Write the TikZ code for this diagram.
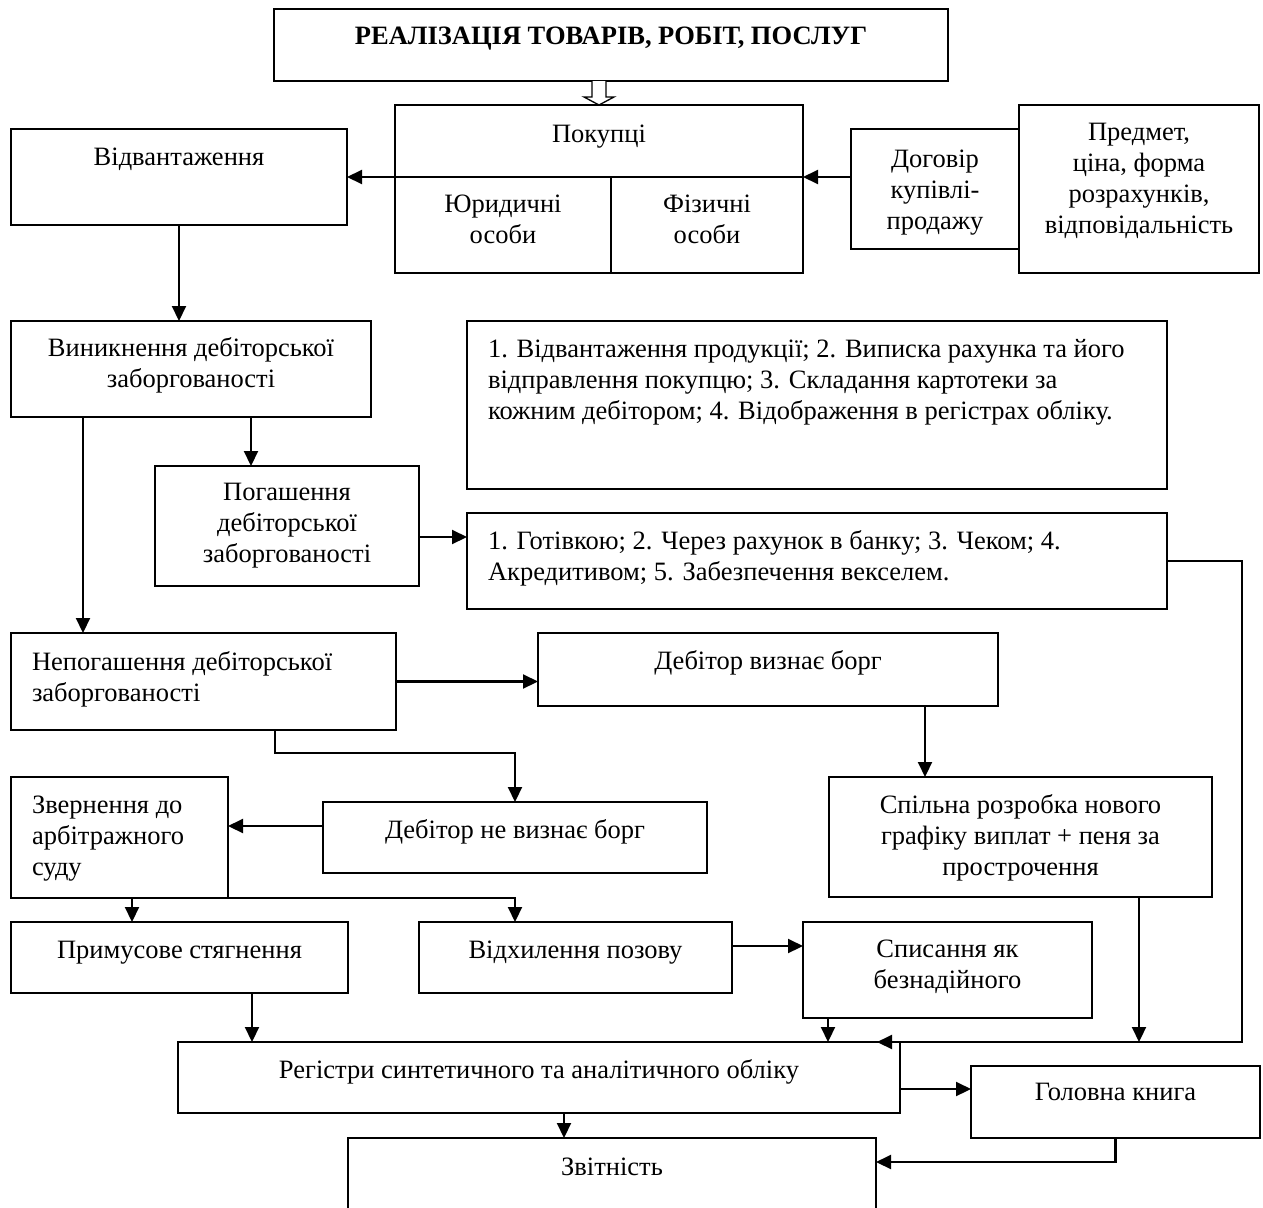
\documentclass[tikz,border=0pt]{standalone}
\usepackage{fontspec}
\setmainfont{Liberation Serif}
\usetikzlibrary{arrows.meta}
\newcommand\cbx[4]{\parbox[t][#2pt][t]{#1pt}{\vspace*{\dimexpr#3pt-21.7pt\relax}\centering\strut#4\par}}
\newcommand\lbx[4]{\parbox[t][#2pt][t]{#1pt}{\vspace*{\dimexpr#3pt-21.7pt\relax}\raggedright\leftskip=21pt\strut#4\par}}
\begin{document}
\begin{tikzpicture}[x=1pt,y=-1pt,
  bx/.style={draw, line width=1.7pt, inner sep=0pt, outer sep=0pt, anchor=north west,
    font=\fontsize{26.5pt}{31pt}\selectfont},
  arr/.style={line width=2.1pt, -{Triangle[length=15pt,width=14pt]}},
  hol/.style={line width=1.3pt, fill=white, line join=miter}]
\useasboundingbox[fill=white] (0,0) rectangle (1263,1207);
% helper coordinates
\coordinate (xHA) at (599,0);
\coordinate (x83) at (83,0);
\coordinate (x251) at (251,0);
\coordinate (y537) at (0,537);
\coordinate (xR) at (1242,0);
\coordinate (xT) at (877,0);
\coordinate (x925) at (925,0);
\coordinate (x275) at (275,0);
\coordinate (y753) at (0,753);
\coordinate (y826) at (0,826);
\coordinate (x132) at (132,0);
\coordinate (y946) at (0,946);
\coordinate (x252) at (252,0);
\coordinate (x828) at (828,0);
\coordinate (x1139) at (1139,0);
\coordinate (y1089) at (0,1089);
\coordinate (x564) at (564,0);
\coordinate (y1162) at (0,1162);
% boxes
\node[bx] (tit) at (274,9) {\cbx{674}{72}{36}{\bfseries РЕАЛІЗАЦІЯ ТОВАРІВ, РОБІТ, ПОСЛУГ}};
\node[bx] (pok) at (395,105) {\cbx{408}{168}{37}{Покупці}};
\node[bx] (yur) at (395,177) {\cbx{216}{96}{35}{Юридичні\\особи}};
\node[bx] (fiz) at (611,177) {\cbx{192}{96}{35}{Фізичні\\особи}};
\node[bx] (otg) at (11,129) {\cbx{336}{96}{36}{Відвантаження}};
\node[bx] (dog) at (851,129) {\cbx{168}{120}{38}{Договір\\купівлі-\\продажу}};
\node[bx] (pred) at (1019,105) {\cbx{240}{168}{35}{Предмет,\\ціна, форма\\розрахунків,\\відповідальність}};
\node[bx] (vyn) at (11,321) {\cbx{360}{96}{35}{Виникнення дебіторської\\заборгованості}};
\node[bx] (inf1) at (467,321) {\lbx{700}{168}{36}{1. Відвантаження продукції; 2. Виписка рахунка та його\\відправлення покупцю; 3. Складання картотеки за\\кожним дебітором; 4. Відображення в регістрах обліку.}};
\node[bx] (pog) at (155,466) {\cbx{264}{120}{34}{Погашення\\дебіторської\\заборгованості}};
\node[bx] (inf2) at (467,513) {\lbx{700}{96}{36}{1. Готівкою; 2. Через рахунок в банку; 3. Чеком; 4.\\Акредитивом; 5. Забезпечення векселем.}};
\node[bx] (nep) at (11,633) {\lbx{385}{97}{37}{Непогашення дебіторської\\заборгованості}};
\node[bx] (viz) at (538,633) {\cbx{460}{73}{36}{Дебітор визнає борг}};
\node[bx] (spl) at (829,777) {\cbx{383}{120}{36}{Спільна розробка нового\\графіку виплат + пеня за\\прострочення}};
\node[bx] (zver) at (11,777) {\lbx{217}{121}{36}{Звернення до\\арбітражного\\суду}};
\node[bx] (nev) at (323,802) {\cbx{384}{71}{36}{Дебітор не визнає борг}};
\node[bx] (prim) at (11,922) {\cbx{337}{71}{36}{Примусове стягнення}};
\node[bx] (vid) at (419,922) {\cbx{313}{71}{36}{Відхилення позову}};
\node[bx] (spys) at (803,922) {\cbx{289}{96}{35}{Списання як\\безнадійного}};
\node[bx] (reg) at (178,1042) {\cbx{722}{71}{36}{Регістри синтетичного та аналітичного обліку}};
\node[bx] (gol) at (971,1066) {\cbx{289}{72}{34}{Головна книга}};
\node[bx] (zvit) at (348,1138) {\cbx{528}{80}{37}{Звітність}};
% hollow arrow
\draw[hol] (tit.south -| xHA) ++(-7,0) -- ++(0,16) -- ++(-8,0) -- (pok.north -| xHA) -- ++(15,-8) -- ++(-8,0) -- ++(0,-16);
% connectors
\draw[arr] (yur.north west) -- (otg.east |- yur.north west);
\draw[arr] (dog.west |- fiz.north east) -- (fiz.north east);
\draw[arr] (otg.south) -- (otg.south |- vyn.north);
\draw[arr] (vyn.south -| x83) -- (nep.north -| x83);
\draw[arr] (vyn.south -| x251) -- (pog.north -| x251);
\draw[arr] (pog.east |- y537) -- (inf2.west |- y537);
\draw[arr] (inf2.east) -| (xR |- reg.north) -- (xT |- reg.north);
\draw[arr] (nep.east) -- (viz.west |- nep.east);
\draw[arr] (viz.south -| x925) -- (spl.north -| x925);
\draw[arr] (nep.south -| x275) |- (nev.north |- y753) -- (nev.north);
\draw[arr] (nev.west |- y826) -- (zver.east |- y826);
\draw[arr] (zver.south -| x132) -- (prim.north -| x132);
\draw[arr] (zver.south east) -| (vid.north -| nev.north);
\draw[arr] (vid.east |- y946) -- (spys.west |- y946);
\draw[arr] (prim.south -| x252) -- (reg.north -| x252);
\draw[arr] (spys.south -| x828) -- (reg.north -| x828);
\draw[arr] (spl.south -| x1139) -- (reg.north -| x1139);
\draw[arr] (reg.east |- y1089) -- (gol.west |- y1089);
\draw[arr] (reg.south -| x564) -- (zvit.north -| x564);
\draw[arr] (gol.south) |- (zvit.east |- y1162);
\end{tikzpicture}
\end{document}
